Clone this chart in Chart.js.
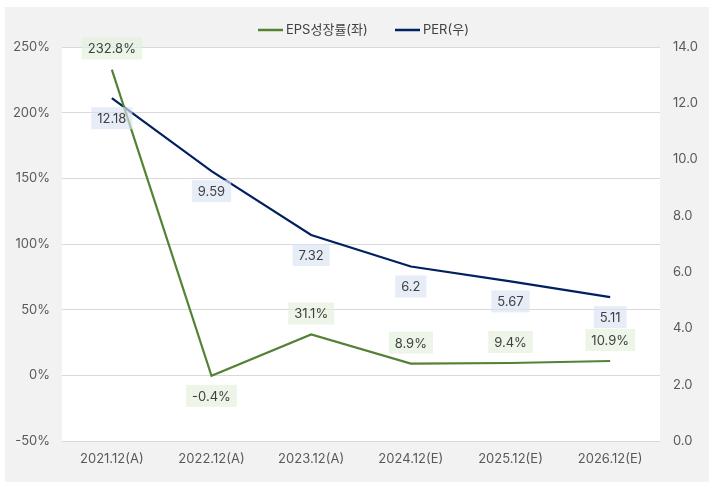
<!DOCTYPE html>
<html><head><meta charset="utf-8">
<script src="https://cdn.jsdelivr.net/npm/chart.js@4.4.1/dist/chart.umd.min.js"></script>
<style>html,body{margin:0;padding:0;background:#fff}#wrap{width:714px;height:488px}</style>
</head><body><div id="wrap"><canvas id="c" width="714" height="488"></canvas></div>
<script>
const categories = ["2021.12(A)","2022.12(A)","2023.12(A)","2024.12(E)","2025.12(E)","2026.12(E)"];
const epsGrowth = [232.8, -0.4, 31.1, 8.9, 9.4, 10.9];
const per = [12.18, 9.59, 7.32, 6.2, 5.67, 5.11];
const epsLabels = ["232.8%","-0.4%","31.1%","8.9%","9.4%","10.9%"];
const perLabels = ["12.18","9.59","7.32","6.2","5.67","5.11"];
const seriesNames = ["EPS성장률(좌)","PER(우)"];

const GREEN = "#548235", NAVY = "#002060";
const FONT = "Inter, 'Noto Sans CJK KR', sans-serif";

const bgPlugin = {
  id: 'bg',
  beforeDraw(chart) {
    const ctx = chart.ctx, a = chart.chartArea;
    ctx.save();
    ctx.fillStyle = "#f2f2f2";
    ctx.fillRect(5, 7, 704, 475);
    ctx.fillStyle = "#ffffff";
    ctx.fillRect(a.left, a.top, a.right - a.left, a.bottom - a.top);
    ctx.restore();
  },
  afterDraw(chart) {
    const ctx = chart.ctx;
    ctx.save();
    // legend
    ctx.font = "13px " + FONT;
    ctx.textBaseline = "middle";
    ctx.fillStyle = "#404040";
    ctx.lineWidth = 2.5;
    const items = [[GREEN, seriesNames[0], 258], [NAVY, seriesNames[1], 395]];
    items.forEach(([c, t, x]) => {
      ctx.strokeStyle = c;
      ctx.beginPath(); ctx.moveTo(x, 30); ctx.lineTo(x + 25, 30); ctx.stroke();
      ctx.textAlign = "left";
      ctx.fillText(t, x + 28, 30);
    });
    // data labels
    ctx.font = "13px " + FONT;
    ctx.textAlign = "center";
    const drawLabels = (dsIndex, labels, fill, offFn) => {
      const meta = chart.getDatasetMeta(dsIndex);
      meta.data.forEach((pt, i) => {
        const t = labels[i];
        const w = ctx.measureText(t).width + 12;
        const h = 22;
        const y = pt.y + offFn(i);
        ctx.fillStyle = fill;
        ctx.fillRect(pt.x - w / 2, y - h / 2, w, h);
        ctx.fillStyle = "#404040";
        ctx.fillText(t, pt.x, y + 1);
      });
    };
    drawLabels(1, perLabels, "rgba(218,227,243,0.65)", () => 20);
    drawLabels(0, epsLabels, "rgba(226,239,218,0.65)", (i) => epsGrowth[i] < 0 ? 20 : -21);
    ctx.restore();
  }
};

new Chart(document.getElementById('c'), {
  type: 'line',
  data: {
    labels: categories,
    datasets: [
      { label: seriesNames[0], data: epsGrowth, borderColor: GREEN, backgroundColor: GREEN, borderWidth: 2.2, pointRadius: 0, yAxisID: 'y', tension: 0 },
      { label: seriesNames[1], data: per, borderColor: NAVY, backgroundColor: NAVY, borderWidth: 2.2, pointRadius: 0, yAxisID: 'y1', tension: 0 }
    ]
  },
  options: {
    responsive: false,
    animation: false,
    devicePixelRatio: 1,
    layout: { padding: { top: 47, left: 0, right: 0, bottom: 0 } },
    plugins: { legend: { display: false }, tooltip: { enabled: false } },
    scales: {
      x: {
        offset: true,
        grid: { display: false, drawTicks: false },
        border: { display: false },
        ticks: { color: "#595959", font: { size: 13, family: FONT }, padding: 10, maxRotation: 0 },
        afterFit(s) { s.height = 47; }
      },
      y: {
        position: 'left', min: -50, max: 250,
        ticks: { stepSize: 50, color: "#595959", font: { size: 13, family: FONT }, padding: 12, callback: v => v + "%" },
        grid: { color: "#d9d9d9", drawTicks: false, lineWidth: 1 },
        border: { display: false },
        afterFit(s) { s.width = 62; }
      },
      y1: {
        position: 'right', min: 0, max: 14,
        ticks: { stepSize: 2, color: "#595959", font: { size: 13, family: FONT }, padding: 13, callback: v => v.toFixed(1) },
        grid: { display: false, drawTicks: false },
        border: { display: false },
        afterFit(s) { s.width = 54; }
      }
    }
  },
  plugins: [bgPlugin]
});
</script>
</body></html>
